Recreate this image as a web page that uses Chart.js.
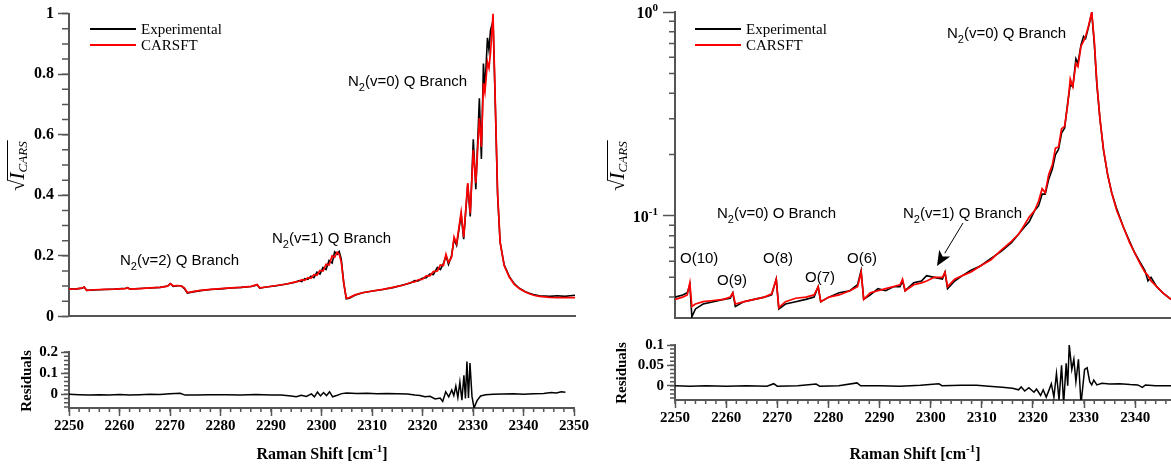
<!DOCTYPE html>
<html>
<head>
<meta charset="utf-8">
<script src="https://cdn.jsdelivr.net/npm/chart.js@4.4.0/dist/chart.umd.min.js"></script>
<style>
  body { margin: 0; background: #fff; }
  #wrap { position: relative; width: 1171px; height: 469px; overflow: hidden; }
  canvas { position: absolute; }
</style>
</head>
<body>
<div id="wrap">
  <canvas id="cL" width="590" height="330" style="left:0px;top:0px"></canvas>
  <canvas id="cLR" width="590" height="139" style="left:0px;top:330px"></canvas>
  <canvas id="cR" width="581" height="330" style="left:590px;top:0px"></canvas>
  <canvas id="cRR" width="581" height="139" style="left:590px;top:330px"></canvas>
</div>
<script>
// ---- left panel: linear spectrum ----
const leftShift = [2250.0, 2251.5, 2252.6, 2253.0, 2253.5, 2255.0, 2257.0, 2259.0, 2261.2, 2261.6, 2262.0, 2264.0, 2266.0, 2268.0, 2269.5, 2270.0, 2270.6, 2271.5, 2272.2, 2272.8, 2273.4, 2274.5, 2276.0, 2278.0, 2280.0, 2282.0, 2284.0, 2286.0, 2287.2, 2287.7, 2289.0, 2291.0, 2293.0, 2294.5, 2295.5, 2296.0, 2296.6, 2297.2, 2297.8, 2298.4, 2299.0, 2299.6, 2300.2, 2300.8, 2301.4, 2302.0, 2302.5, 2303.0, 2303.4, 2303.8, 2304.3, 2304.8, 2305.4, 2306.5, 2308.0, 2310.0, 2312.0, 2314.0, 2316.0, 2317.5, 2318.3, 2319.0, 2319.8, 2320.6, 2321.3, 2322.0, 2322.8, 2323.4, 2324.0, 2324.5, 2325.0, 2325.6, 2326.1, 2326.6, 2327.5, 2328.0, 2328.8, 2329.3, 2329.9, 2330.4, 2331.1, 2331.5, 2331.9, 2332.2, 2332.7, 2333.0, 2333.3, 2333.8, 2334.2, 2334.7, 2335.2, 2336.0, 2337.0, 2338.0, 2339.0, 2340.0, 2341.0, 2342.0, 2343.0, 2345.0, 2346.5, 2348.0, 2349.0, 2350.0];
const leftExp = [0.090, 0.091, 0.093, 0.097, 0.086, 0.087, 0.089, 0.090, 0.093, 0.095, 0.090, 0.092, 0.094, 0.096, 0.100, 0.108, 0.099, 0.101, 0.101, 0.092, 0.077, 0.081, 0.085, 0.089, 0.091, 0.094, 0.096, 0.099, 0.104, 0.093, 0.097, 0.101, 0.107, 0.112, 0.118, 0.115, 0.125, 0.122, 0.133, 0.128, 0.146, 0.140, 0.162, 0.155, 0.185, 0.176, 0.213, 0.205, 0.214, 0.190, 0.110, 0.058, 0.060, 0.070, 0.078, 0.084, 0.089, 0.095, 0.104, 0.110, 0.118, 0.117, 0.126, 0.128, 0.140, 0.138, 0.162, 0.155, 0.175, 0.200, 0.172, 0.200, 0.255, 0.235, 0.336, 0.255, 0.436, 0.330, 0.585, 0.420, 0.720, 0.520, 0.835, 0.750, 0.920, 0.880, 0.945, 0.975, 0.730, 0.400, 0.245, 0.170, 0.132, 0.108, 0.093, 0.083, 0.076, 0.071, 0.068, 0.066, 0.068, 0.066, 0.068, 0.070];
const leftFit = [0.090, 0.091, 0.094, 0.097, 0.086, 0.088, 0.089, 0.090, 0.092, 0.095, 0.090, 0.092, 0.094, 0.096, 0.100, 0.108, 0.101, 0.102, 0.100, 0.094, 0.079, 0.082, 0.086, 0.089, 0.092, 0.094, 0.096, 0.099, 0.105, 0.094, 0.097, 0.102, 0.107, 0.113, 0.116, 0.121, 0.119, 0.128, 0.126, 0.138, 0.136, 0.152, 0.150, 0.172, 0.170, 0.200, 0.195, 0.212, 0.205, 0.180, 0.110, 0.060, 0.062, 0.071, 0.078, 0.084, 0.089, 0.096, 0.103, 0.112, 0.114, 0.121, 0.122, 0.134, 0.134, 0.148, 0.150, 0.170, 0.168, 0.205, 0.178, 0.195, 0.262, 0.240, 0.345, 0.262, 0.440, 0.340, 0.550, 0.440, 0.655, 0.560, 0.770, 0.740, 0.840, 0.820, 0.870, 1.000, 0.740, 0.410, 0.245, 0.168, 0.130, 0.106, 0.092, 0.082, 0.075, 0.069, 0.066, 0.063, 0.062, 0.062, 0.062, 0.062];
const leftResShift = [2250, 2252, 2254, 2256, 2258, 2260, 2262, 2264, 2266, 2268, 2270, 2272, 2273, 2275, 2278, 2281, 2284, 2287, 2290, 2292, 2294, 2295, 2296, 2297, 2298, 2298.6, 2299.2, 2299.8, 2300.4, 2301, 2301.6, 2302.2, 2303, 2304, 2305, 2307, 2309, 2311, 2313, 2315, 2317, 2318.5, 2319.5, 2320.5, 2321.5, 2322.5, 2323.5, 2324, 2324.6, 2325.2, 2325.8, 2326.2, 2326.6, 2327.0, 2327.4, 2327.8, 2328.2, 2328.5, 2328.8, 2329.1, 2329.4, 2329.8, 2330.2, 2330.8, 2331.5, 2332.5, 2334, 2336, 2338, 2340, 2342, 2344, 2345.5, 2346.5, 2347.5, 2348.3];
const leftRes = [0.000, -0.002, -0.004, -0.002, -0.003, -0.001, -0.003, -0.002, 0.000, -0.001, 0.003, 0.005, -0.004, -0.003, -0.002, -0.002, -0.003, -0.001, -0.003, -0.004, -0.008, -0.012, -0.005, -0.010, 0.002, -0.012, 0.010, -0.008, 0.008, -0.006, 0.012, -0.012, -0.006, 0.003, 0.006, 0.004, 0.005, 0.003, 0.004, 0.002, 0.001, -0.004, -0.006, -0.012, -0.010, -0.022, -0.018, -0.034, 0.012, -0.012, 0.020, -0.006, 0.038, -0.016, 0.058, -0.028, 0.090, -0.020, 0.155, -0.018, 0.148, -0.010, -0.065, -0.030, -0.008, -0.002, 0.000, 0.001, 0.002, 0.000, 0.003, 0.004, 0.008, 0.006, 0.012, 0.010];

// ---- right panel: log spectrum ----
const rightShift = [2250.0, 2251.5, 2252.4, 2252.9, 2253.3, 2254.0, 2255.5, 2257.5, 2259.5, 2260.8, 2261.3, 2261.8, 2263.5, 2265.5, 2267.5, 2268.9, 2269.8, 2270.3, 2271.6, 2273.6, 2275.6, 2277.2, 2278.0, 2278.5, 2280.1, 2282.1, 2284.2, 2285.7, 2286.4, 2286.9, 2288.2, 2289.7, 2291.2, 2292.7, 2294.0, 2294.5, 2295.0, 2296.7, 2298.2, 2299.2, 2300.7, 2302.3, 2302.8, 2303.3, 2304.7, 2306.2, 2307.8, 2309.8, 2311.8, 2313.8, 2315.8, 2317.3, 2318.3, 2319.3, 2320.3, 2321.1, 2321.8, 2322.4, 2323.1, 2323.8, 2324.4, 2325.0, 2325.6, 2326.2, 2326.8, 2327.3, 2327.8, 2328.4, 2328.8, 2329.4, 2329.9, 2330.3, 2330.9, 2331.5, 2332.0, 2332.5, 2333.1, 2333.8, 2334.6, 2335.4, 2336.4, 2337.7, 2338.9, 2339.9, 2341.0, 2341.9, 2342.5, 2343.1, 2344.2, 2345.4, 2347.0];
const rightExp = [0.040, 0.041, 0.042, 0.046, 0.032, 0.035, 0.037, 0.038, 0.039, 0.0395, 0.042, 0.036, 0.038, 0.039, 0.040, 0.041, 0.049, 0.035, 0.037, 0.038, 0.039, 0.040, 0.045, 0.038, 0.040, 0.042, 0.043, 0.046, 0.054, 0.039, 0.041, 0.044, 0.043, 0.045, 0.045, 0.048, 0.043, 0.047, 0.048, 0.051, 0.050, 0.049, 0.053, 0.044, 0.048, 0.051, 0.054, 0.057, 0.062, 0.067, 0.074, 0.082, 0.088, 0.094, 0.106, 0.112, 0.128, 0.128, 0.152, 0.170, 0.200, 0.212, 0.255, 0.270, 0.360, 0.440, 0.430, 0.590, 0.560, 0.690, 0.760, 0.740, 0.850, 0.990, 0.700, 0.440, 0.300, 0.210, 0.160, 0.130, 0.108, 0.088, 0.075, 0.066, 0.059, 0.054, 0.048, 0.050, 0.045, 0.042, 0.039];
const rightFit = [0.039, 0.040, 0.041, 0.047, 0.036, 0.037, 0.038, 0.0385, 0.039, 0.040, 0.042, 0.037, 0.038, 0.039, 0.040, 0.0415, 0.049, 0.0355, 0.038, 0.0395, 0.040, 0.041, 0.045, 0.038, 0.040, 0.041, 0.043, 0.045, 0.053, 0.039, 0.042, 0.043, 0.044, 0.045, 0.046, 0.049, 0.043, 0.046, 0.047, 0.048, 0.050, 0.050, 0.053, 0.045, 0.049, 0.051, 0.053, 0.057, 0.061, 0.068, 0.075, 0.082, 0.090, 0.099, 0.106, 0.118, 0.136, 0.130, 0.160, 0.178, 0.215, 0.218, 0.268, 0.275, 0.350, 0.470, 0.430, 0.560, 0.540, 0.680, 0.720, 0.760, 0.860, 1.000, 0.720, 0.450, 0.300, 0.212, 0.160, 0.130, 0.106, 0.088, 0.074, 0.066, 0.058, 0.053, 0.051, 0.048, 0.045, 0.042, 0.039];
const rightResShift = [2250, 2253, 2256, 2260, 2264, 2268, 2269.3, 2270.0, 2274, 2277.6, 2278.3, 2282, 2285.6, 2286.3, 2290, 2294, 2298, 2301.6, 2302.2, 2306, 2309, 2312, 2314, 2316, 2317.2, 2317.7, 2318.4, 2319.2, 2320.2, 2320.7, 2321.5, 2322.0, 2322.6, 2323.1, 2323.6, 2324.1, 2324.6, 2325.1, 2325.6, 2326.0, 2326.5, 2326.8, 2327.1, 2327.6, 2328.0, 2328.4, 2328.9, 2329.4, 2330.1, 2330.6, 2331.1, 2331.5, 2331.9, 2332.5, 2333.5, 2335, 2337, 2339, 2340.5, 2341.4, 2342, 2344, 2347];
const rightRes = [0.000, -0.001, 0.000, -0.001, 0.000, -0.001, 0.005, -0.001, 0.000, 0.004, -0.001, 0.000, 0.007, 0.000, 0.000, -0.001, 0.001, 0.005, 0.000, 0.001, 0.001, -0.002, -0.004, -0.006, -0.010, -0.003, -0.013, -0.005, -0.016, -0.008, -0.024, -0.010, -0.028, -0.012, 0.005, -0.028, 0.030, -0.034, 0.050, -0.045, 0.055, 0.000, 0.100, 0.040, 0.065, 0.010, 0.065, -0.045, 0.040, 0.044, 0.010, 0.002, 0.014, 0.002, 0.006, 0.004, 0.005, 0.003, 0.002, -0.004, 0.002, 0.000, 0.000];

// ---- tick labels ----
const leftTicksY = [0, 0.2, 0.4, 0.6, 0.8, 1];
const leftResTicksY = [0, 0.1, 0.2];
const rightResTicksY = [0, 0.05, 0.1];
const leftTicksX = [2250, 2260, 2270, 2280, 2290, 2300, 2310, 2320, 2330, 2340, 2350];
const rightTicksX = [2250, 2260, 2270, 2280, 2290, 2300, 2310, 2320, 2330, 2340];
const rightTicksY = [0.1, 1];

const AXIS = '#555';
const SERIF = '"Liberation Serif", "Times New Roman", serif';
const SANS = '"Liberation Sans", Arial, sans-serif';
const TICKFONT = { family: SERIF, size: 15, weight: 'bold' };
const MAINTICKFONT = { family: SERIF, size: 16, weight: 'bold' };

function pts(xs, ys) { return xs.map((x, i) => ({ x: x, y: ys[i] })); }
function range(a, b, s) { const out = []; for (let v = a; v <= b + 1e-9; v += s) out.push(Math.round(v * 1000) / 1000); return out; }

// draw text made of pieces (for sub/superscripts)
function drawParts(ctx, parts, x, y, align) {
  let w = 0;
  parts.forEach(p => { ctx.font = p.f; w += ctx.measureText(p.t).width; });
  let cx = align === 'center' ? x - w / 2 : align === 'right' ? x - w : x;
  const start = cx;
  parts.forEach(p => { ctx.font = p.f; ctx.fillText(p.t, cx, y + (p.dy || 0)); cx += ctx.measureText(p.t).width; });
  return { start: start, width: w };
}
function n2(x, y, rest) {
  return function (ctx) {
    drawParts(ctx, [{ t: 'N', f: '15px ' + SANS }, { t: '2', f: '11px ' + SANS, dy: 5 }, { t: rest, f: '15px ' + SANS }], x, y, 'left');
  };
}
function plain(x, y, t) {
  return function (ctx) { ctx.font = '15px ' + SANS; ctx.textAlign = 'left'; ctx.fillText(t, x, y); };
}
function yTitle(x, y) {
  return function (ctx) {
    ctx.save();
    ctx.translate(x, y);
    ctx.rotate(-Math.PI / 2);
    const parts = [{ t: '\u221A', f: '20px ' + SERIF }, { t: 'I', f: 'italic 22px ' + SERIF }, { t: 'CARS', f: 'italic 13px ' + SERIF, dy: 3 }];
    ctx.font = parts[0].f;
    const rw = ctx.measureText('\u221A').width;
    const r = drawParts(ctx, parts, 0, 0, 'center');
    ctx.strokeStyle = '#000'; ctx.lineWidth = 1;
    ctx.beginPath(); ctx.moveTo(r.start + rw - 1, -16.5); ctx.lineTo(r.start + r.width + 1, -16.5); ctx.stroke();
    ctx.restore();
  };
}
function resTitle(x, y) {
  return function (ctx) {
    ctx.save(); ctx.translate(x, y); ctx.rotate(-Math.PI / 2);
    ctx.font = 'bold 15px ' + SERIF; ctx.textAlign = 'center'; ctx.fillText('Residuals', 0, 0);
    ctx.restore();
  };
}
function xTitle(x, y) {
  return function (ctx) {
    drawParts(ctx, [{ t: 'Raman Shift [cm', f: 'bold 16px ' + SERIF }, { t: '-1', f: 'bold 11px ' + SERIF, dy: -7 }, { t: ']', f: 'bold 16px ' + SERIF }], x, y, 'center');
  };
}
function legend(x, y) {
  return function (ctx) {
    [['Experimental', '#000'], ['CARSFT', '#ff0000']].forEach((it, i) => {
      const yy = y + i * 16;
      ctx.strokeStyle = it[1]; ctx.lineWidth = 2;
      ctx.beginPath(); ctx.moveTo(x, yy); ctx.lineTo(x + 46, yy); ctx.stroke();
      ctx.fillStyle = '#000'; ctx.font = '15px ' + SERIF; ctx.textAlign = 'left';
      ctx.fillText(it[0], x + 51, yy + 5);
    });
  };
}
function arrow(x1, y1, x2, y2) {
  return function (ctx) {
    const ang = Math.atan2(y2 - y1, x2 - x1), L = 15, W = 6.5;
    const bx = x2 - L * Math.cos(ang), by = y2 - L * Math.sin(ang);
    ctx.strokeStyle = '#000'; ctx.lineWidth = 1;
    ctx.beginPath(); ctx.moveTo(x1, y1); ctx.lineTo(bx, by); ctx.stroke();
    ctx.fillStyle = '#000';
    ctx.beginPath(); ctx.moveTo(x2, y2);
    ctx.lineTo(bx + W * Math.sin(ang), by - W * Math.cos(ang));
    ctx.lineTo(x2 - (L - 4) * Math.cos(ang), y2 - (L - 4) * Math.sin(ang));
    ctx.lineTo(bx - W * Math.sin(ang), by + W * Math.cos(ang));
    ctx.closePath(); ctx.fill();
  };
}
function logLabels(ctx, chart) {
  const ys = chart.scales.y, a = chart.chartArea;
  [[1, '0'], [0.1, '-1']].forEach(t => {
    const y = ys.getPixelForValue(t[0]);
    ctx.fillStyle = '#000'; ctx.textBaseline = 'alphabetic';
    drawParts(ctx, [{ t: '10', f: 'bold 16px ' + SERIF }, { t: t[1], f: 'bold 11px ' + SERIF, dy: -7 }], a.left - 17, y + 6, 'right');
  });
}

// per-canvas extras: minor ticks and overlay text
const extras = {
  cL: { yMinor: range(0, 1, 0.05), yLen: 7, draw: [legend(90, 29), yTitle(24, 166), n2(120, 265, '(v=2) Q Branch'), n2(272, 243, '(v=1) Q Branch'), n2(348, 86, '(v=0) Q Branch')] },
  cLR: { yMinor: range(-0.06, 0.2, 0.02), yLen: 5, xMinor: range(2250, 2350, 2), xLen: 4, draw: [resTitle(31, 51), xTitle(322, 129)] },
  cR: { yMinor: [0.04, 0.05, 0.06, 0.07, 0.08, 0.09, 0.2, 0.3, 0.4, 0.5, 0.6, 0.7, 0.8, 0.9], yLen: 6, draw: [logLabels, legend(105, 29), yTitle(34, 166),
    n2(357, 38, '(v=0) Q Branch'), n2(127, 218, '(v=0) O Branch'), n2(313, 218, '(v=1) Q Branch'),
    plain(90, 263, 'O(10)'), plain(127, 285, 'O(9)'), plain(173, 263, 'O(8)'), plain(215, 282, 'O(7)'), plain(257, 263, 'O(6)'),
    arrow(373, 223, 347, 266)] },
  cRR: { yMinor: range(-0.03, 0.1, 0.01), yLen: 5, xMinor: range(2250, 2346, 2), xLen: 4, draw: [resTitle(36, 43), xTitle(325, 129)] }
};

const deco = {
  id: 'deco',
  afterDraw(chart) {
    const ex = extras[chart.canvas.id];
    if (!ex) return;
    const ctx = chart.ctx, a = chart.chartArea;
    ctx.save();
    ctx.strokeStyle = AXIS; ctx.lineWidth = 1.5;
    ctx.beginPath();
    (ex.yMinor || []).forEach(v => {
      const y = chart.scales.y.getPixelForValue(v);
      if (y < a.top - 1 || y > a.bottom + 1) return;
      ctx.moveTo(a.left - ex.yLen, y); ctx.lineTo(a.left, y);
    });
    (ex.xMinor || []).forEach(v => {
      const x = chart.scales.x.getPixelForValue(v);
      if (x < a.left - 1 || x > a.right + 1) return;
      ctx.moveTo(x, a.bottom); ctx.lineTo(x, a.bottom + ex.xLen);
    });
    ctx.stroke();
    ctx.fillStyle = '#000'; ctx.textBaseline = 'alphabetic';
    ex.draw.forEach(fn => { ctx.save(); fn(ctx, chart); ctx.restore(); });
    ctx.restore();
  }
};

function fixTicks(vals) { return function (s) { s.ticks = vals.map(v => ({ value: v })); }; }

function makeChart(id, datasets, x, y, pad, yWidth, xHeight) {
  x.afterFit = s => { s.height = xHeight; };
  y.afterFit = s => { s.width = yWidth; };
  return new Chart(document.getElementById(id), {
    type: 'line',
    data: { datasets: datasets },
    options: {
      responsive: false, animation: false, devicePixelRatio: 1, events: [],
      layout: { padding: pad },
      plugins: { legend: { display: false }, tooltip: { enabled: false } },
      elements: { point: { radius: 0 }, line: { tension: 0 } },
      scales: { x: x, y: y }
    },
    plugins: [deco]
  });
}

function lineSet(data, color, w, order) {
  return { data: data, borderColor: color, borderWidth: w, pointRadius: 0, fill: false, order: order };
}

// left main
makeChart('cL',
  [lineSet(pts(leftShift, leftFit), '#ff0000', 1.7, 0), lineSet(pts(leftShift, leftExp), '#000', 1.6, 1)],
  { type: 'linear', min: 2250, max: 2350, ticks: { display: false }, grid: { display: false }, border: { display: true, color: AXIS, width: 2 } },
  { type: 'linear', min: 0, max: 1, afterBuildTicks: fixTicks(leftTicksY),
    ticks: { font: MAINTICKFONT, color: '#000', padding: 4, autoSkip: false, callback: v => String(v) },
    grid: { drawOnChartArea: false, drawTicks: true, tickLength: 11, tickColor: AXIS, tickWidth: 1.5 }, border: { display: true, color: AXIS, width: 2 } },
  { top: 11, right: 15, left: 0, bottom: 0 }, 69, 4);

// left residuals
makeChart('cLR',
  [lineSet(pts(leftResShift, leftRes), '#000', 1.5, 0)],
  { type: 'linear', min: 2250, max: 2350, afterBuildTicks: fixTicks(leftTicksX),
    ticks: { font: TICKFONT, color: '#000', padding: 1, autoSkip: false, maxRotation: 0, callback: v => String(v) },
    grid: { drawOnChartArea: false, drawTicks: true, tickLength: 8, tickColor: AXIS, tickWidth: 1.5 }, border: { display: true, color: AXIS, width: 2 } },
  { type: 'linear', min: -0.065, max: 0.2, afterBuildTicks: fixTicks(leftResTicksY),
    ticks: { font: TICKFONT, color: '#000', padding: 3, autoSkip: false, callback: v => String(v) },
    grid: { drawOnChartArea: false, drawTicks: true, tickLength: 8, tickColor: AXIS, tickWidth: 1.5 }, border: { display: true, color: AXIS, width: 2 } },
  { top: 22, right: 15, left: 0, bottom: 0 }, 69, 61);

// right main (log)
makeChart('cR',
  [lineSet(pts(rightShift, rightFit), '#ff0000', 1.7, 0), lineSet(pts(rightShift, rightExp), '#000', 1.6, 1)],
  { type: 'linear', min: 2250, max: 2347, ticks: { display: false }, grid: { display: false }, border: { display: true, color: AXIS, width: 2 } },
  { type: 'logarithmic', min: 0.0316, max: 1, afterBuildTicks: fixTicks(rightTicksY),
    ticks: { font: TICKFONT, color: '#000', autoSkip: false, callback: () => '' },
    grid: { drawOnChartArea: false, drawTicks: true, tickLength: 12, tickColor: AXIS, tickWidth: 1.5 }, border: { display: true, color: AXIS, width: 2 } },
  { top: 11, right: 0, left: 0, bottom: 0 }, 85, 11);

// right residuals
makeChart('cRR',
  [lineSet(pts(rightResShift, rightRes), '#000', 1.5, 0)],
  { type: 'linear', min: 2250, max: 2347, afterBuildTicks: fixTicks(rightTicksX),
    ticks: { font: TICKFONT, color: '#000', padding: 1, autoSkip: false, maxRotation: 0, callback: v => String(v) },
    grid: { drawOnChartArea: false, drawTicks: true, tickLength: 8, tickColor: AXIS, tickWidth: 1.5 }, border: { display: true, color: AXIS, width: 2 } },
  { type: 'linear', min: -0.035, max: 0.1, afterBuildTicks: fixTicks(rightResTicksY),
    ticks: { font: TICKFONT, color: '#000', padding: 3, autoSkip: false, callback: v => String(v) },
    grid: { drawOnChartArea: false, drawTicks: true, tickLength: 8, tickColor: AXIS, tickWidth: 1.5 }, border: { display: true, color: AXIS, width: 2 } },
  { top: 15, right: 0, left: 0, bottom: 0 }, 85, 69);
</script>
</body>
</html>
